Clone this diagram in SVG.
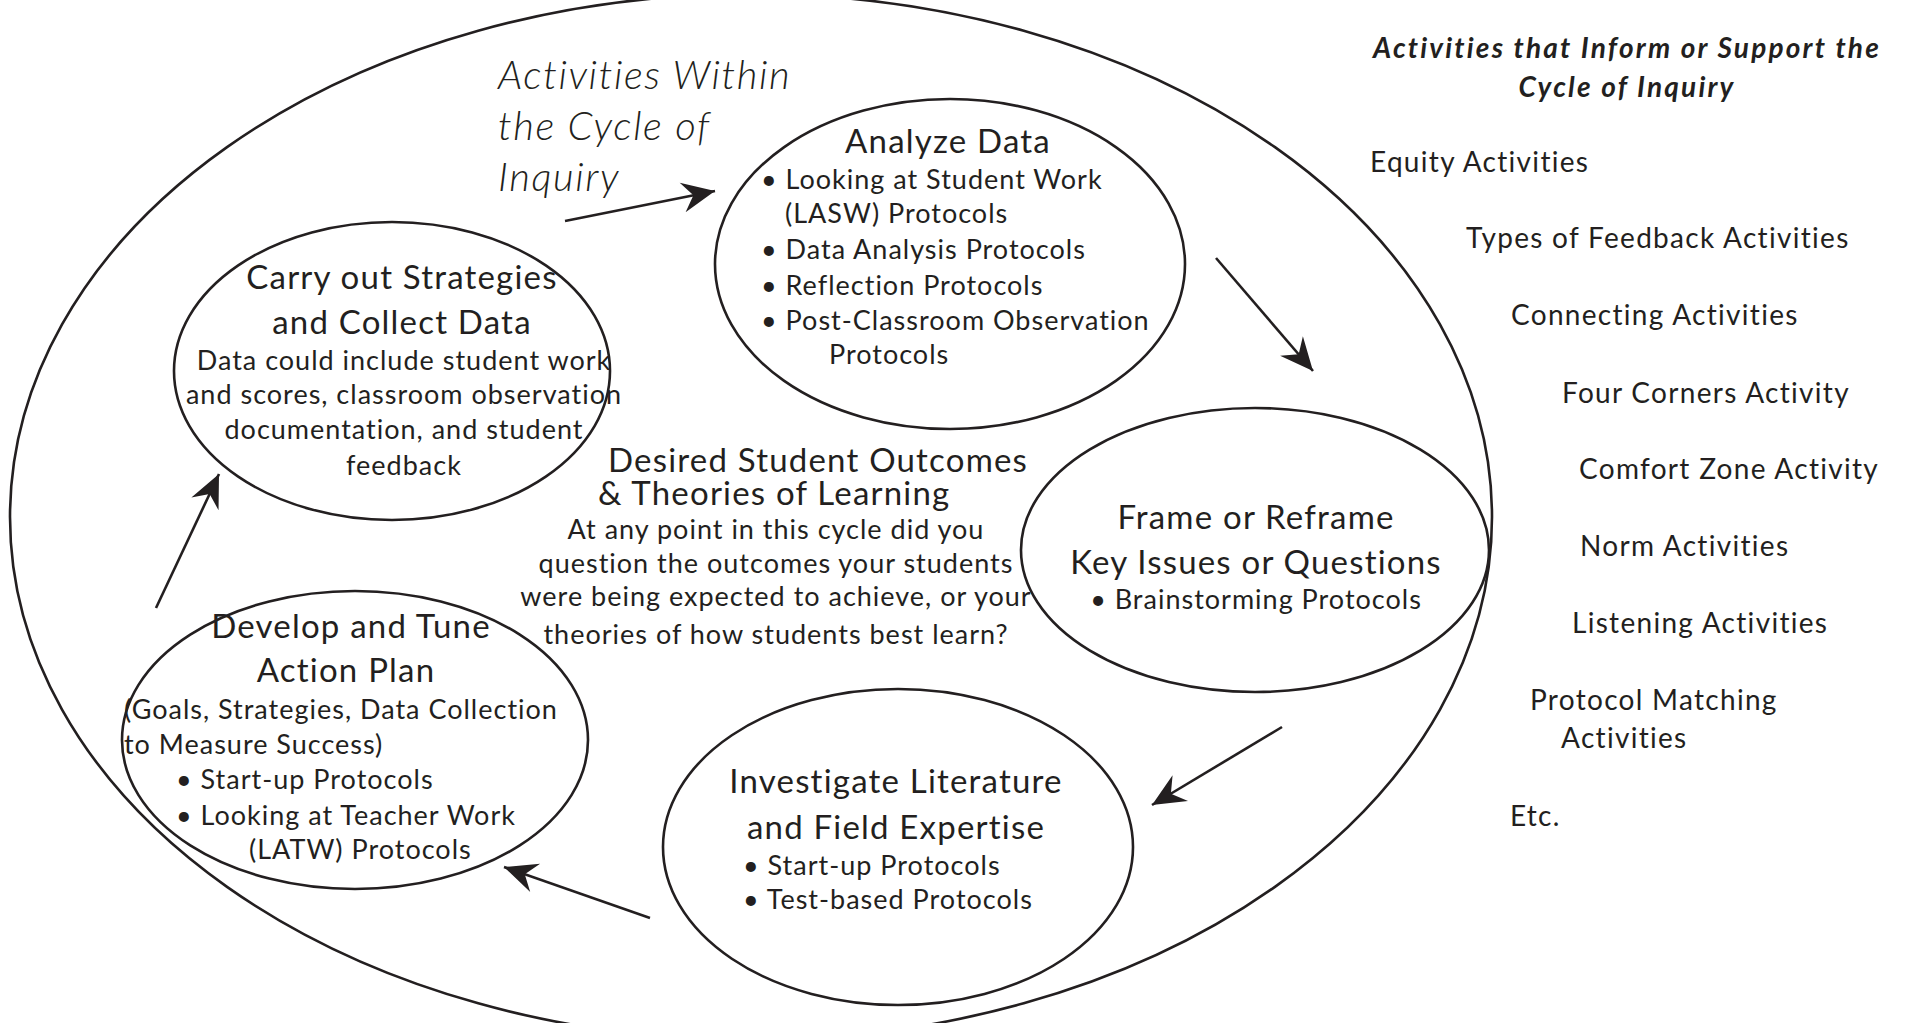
<svg xmlns="http://www.w3.org/2000/svg" width="1906" height="1023" viewBox="0 0 1906 1023">
<defs>
<style>
.shape{fill:none;stroke:#231f20;stroke-width:2.6}
.conn{fill:none;stroke:#231f20;stroke-width:2.6}
text{font-family:Lato,"Open Sans","Liberation Sans",sans-serif;fill:#231f20}
.t{font-size:33px;letter-spacing:1.2px}
.b{font-size:27px;letter-spacing:1px}
.c{text-anchor:middle}
.it{font-size:40px;font-style:italic;font-weight:300;letter-spacing:1.6px}
.hd{font-size:28px;font-style:italic;font-weight:bold;text-anchor:middle;letter-spacing:2.2px}
.r{font-size:28px;letter-spacing:1.3px}
</style>
<marker id="ah" viewBox="-34 -16 36 32" refX="0" refY="0" markerWidth="36" markerHeight="32" markerUnits="userSpaceOnUse" orient="auto">
<path d="M0,0 L-33,-15 L-22,0 L-33,15 Z" fill="#231f20"/>
</marker>
</defs>
<rect width="1906" height="1023" fill="#fff"/>
<g id="outer"><ellipse class="shape" cx="751" cy="517" rx="741" ry="523"/></g>
<g id="title-within">
<text class="it" x="498" y="89">Activities Within</text>
<text class="it" x="498" y="140">the Cycle of</text>
<text class="it" x="498" y="191">Inquiry</text>
</g>
<g id="analyze">
<ellipse class="shape" cx="950" cy="264" rx="235" ry="165"/>
<text class="t c" x="948" y="153">Analyze Data</text>
<text class="b" x="761" y="189">• Looking at Student Work</text>
<text class="b" x="785" y="223">(LASW) Protocols</text>
<text class="b" x="761" y="259">• Data Analysis Protocols</text>
<text class="b" x="761" y="295">• Reflection Protocols</text>
<text class="b" x="761" y="330">• Post-Classroom Observation</text>
<text class="b" x="829" y="364">Protocols</text>
</g>
<g id="carry">
<ellipse class="shape" cx="392" cy="371" rx="218" ry="149"/>
<text class="t c" x="402" y="289">Carry out Strategies</text>
<text class="t c" x="402" y="334">and Collect Data</text>
<text class="b c" x="404" y="370">Data could include student work</text>
<text class="b c" x="404" y="404">and scores, classroom observation</text>
<text class="b c" x="404" y="439">documentation, and student</text>
<text class="b c" x="404" y="475">feedback</text>
</g>
<g id="desired">
<text class="t" x="608" y="472">Desired Student Outcomes</text>
<text class="t" x="598" y="505">&amp; Theories of Learning</text>
<text class="b c" x="776" y="539">At any point in this cycle did you</text>
<text class="b c" x="776" y="573">question the outcomes your students</text>
<text class="b c" x="776" y="606">were being expected to achieve, or your</text>
<text class="b c" x="776" y="644">theories of how students best learn?</text>
</g>
<g id="frame">
<ellipse class="shape" cx="1255" cy="550" rx="234" ry="142"/>
<text class="t c" x="1256" y="529">Frame or Reframe</text>
<text class="t c" x="1256" y="574">Key Issues or Questions</text>
<text class="b c" x="1256" y="609">• Brainstorming Protocols</text>
</g>
<g id="investigate">
<ellipse class="shape" cx="898" cy="847" rx="235" ry="158"/>
<text class="t c" x="896" y="793">Investigate Literature</text>
<text class="t c" x="896" y="839">and Field Expertise</text>
<text class="b" x="743" y="875">• Start-up Protocols</text>
<text class="b" x="743" y="909">• Test-based Protocols</text>
</g>
<g id="develop">
<ellipse class="shape" cx="355" cy="740" rx="233" ry="149"/>
<text class="t c" x="351" y="638">Develop and Tune</text>
<text class="t c" x="346" y="682">Action Plan</text>
<text class="b" x="124" y="719">(Goals, Strategies, Data Collection</text>
<text class="b" x="124" y="754">to Measure Success)</text>
<text class="b" x="176" y="789">• Start-up Protocols</text>
<text class="b" x="176" y="825">• Looking at Teacher Work</text>
<text class="b" x="249" y="859">(LATW) Protocols</text>
</g>
<g id="support">
<text class="hd" x="1627" y="58">Activities that Inform or Support the</text>
<text class="hd" x="1627" y="97">Cycle of Inquiry</text>
<text class="r" x="1370" y="172">Equity Activities</text>
<text class="r" x="1466" y="248">Types of Feedback Activities</text>
<text class="r" x="1511" y="325">Connecting Activities</text>
<text class="r" x="1562" y="403">Four Corners Activity</text>
<text class="r" x="1579" y="479">Comfort Zone Activity</text>
<text class="r" x="1580" y="556">Norm Activities</text>
<text class="r" x="1572" y="633">Listening Activities</text>
<text class="r" x="1530" y="710">Protocol Matching</text>
<text class="r" x="1561" y="748">Activities</text>
<text class="r" x="1510" y="826">Etc.</text>
</g>
<g id="connectors">
<line class="conn" x1="565" y1="221" x2="715" y2="191" marker-end="url(#ah)"/>
<line class="conn" x1="1216" y1="258" x2="1313" y2="371" marker-end="url(#ah)"/>
<line class="conn" x1="1282" y1="727" x2="1152" y2="805" marker-end="url(#ah)"/>
<line class="conn" x1="650" y1="918" x2="504" y2="867" marker-end="url(#ah)"/>
<line class="conn" x1="156" y1="608" x2="219" y2="474" marker-end="url(#ah)"/>
</g>
</svg>
